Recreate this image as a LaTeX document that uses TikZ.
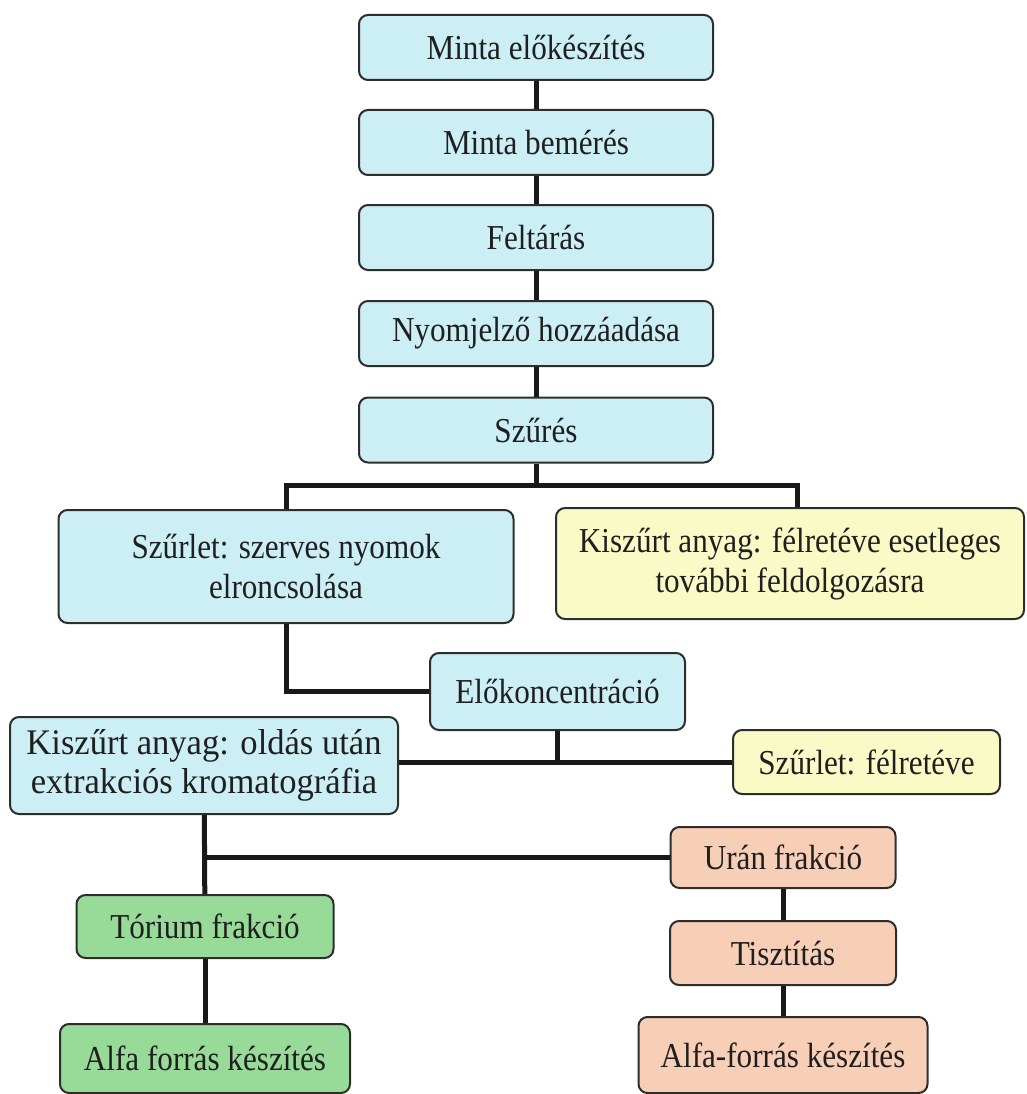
\documentclass[tikz,border=0pt]{standalone}
\usepackage{fontspec}
\setmainfont{Liberation Serif}[FakeStretch=0.89]
\newfontfamily\widefont{Liberation Serif}[FakeStretch=0.96]
\usepackage{xcolor}
\usepackage{tikz}
\usetikzlibrary{positioning}

\definecolor{boxblue}{RGB}{204,238,245}
\definecolor{boxyellow}{RGB}{250,250,198}
\definecolor{boxgreen}{RGB}{152,218,152}
\definecolor{boxpeach}{RGB}{247,206,182}
\definecolor{boxline}{RGB}{45,45,45}

\begin{document}
\begin{tikzpicture}[
        x=1pt, y=-1pt,
        font=\fontsize{35}{40}\selectfont,
        stage/.style={rectangle, rounded corners=9pt, draw=boxline, line width=2pt, inner sep=0pt, align=center, text=black!88},
        bluebox/.style={stage, fill=boxblue},
        yellowbox/.style={stage, fill=boxyellow},
        greenbox/.style={stage, fill=boxgreen},
        peachbox/.style={stage, fill=boxpeach},
        link/.style={line width=5pt, draw=black!90}
    ]
        \useasboundingbox (0,0) rectangle (1026,1094);

        % Main chain
        \node[bluebox, minimum width=354pt, minimum height=65pt] (prep) at (536,47.5) {Minta előkészítés};
        \node[bluebox, minimum width=354pt, minimum height=65pt] (weigh) at (536,142.5) {Minta bemérés};
        \node[bluebox, minimum width=354pt, minimum height=65pt] (digest) at (536,237.5) {Feltárás};
        \node[bluebox, minimum width=354pt, minimum height=65pt] (tracer) at (536,333.5) {Nyomjelző hozzáadása};
        \node[bluebox, minimum width=354pt, minimum height=65pt] (filter) at (536,430) {Szűrés};

        % After filtering
        \node[bluebox, minimum width=455pt, minimum height=113pt] (organic) at (286,566.5) {Szűrlet: szerves nyomok\\elroncsolása};
        \node[yellowbox, minimum width=468pt, minimum height=111pt] (residue) at (790,563.5) {Kiszűrt anyag: félretéve esetleges\\további feldolgozásra};

        % Preconcentration
        \node[bluebox, minimum width=255pt, minimum height=77pt] (precon) at (557.5,691.5) {Előkoncentráció};
        \node[bluebox, minimum width=388pt, minimum height=97pt, font=\widefont\fontsize{36}{39}\selectfont] (extract) at (204,765.5) {Kiszűrt anyag: oldás után\\extrakciós kromatográfia};
        \node[yellowbox, minimum width=267pt, minimum height=64pt] (filtrate) at (866.5,762) {Szűrlet: félretéve};

        % Fractions
        \node[greenbox, minimum width=257pt, minimum height=63pt] (thorium) at (205,926.5) {Tórium frakció};
        \node[greenbox, minimum width=290pt, minimum height=69pt] (alphath) at (205,1058.5) {Alfa forrás készítés};
        \node[peachbox, minimum width=225pt, minimum height=61pt] (uranium) at (783,857.5) {Urán frakció};
        \node[peachbox, minimum width=226pt, minimum height=64pt] (purify) at (783,953) {Tisztítás};
        \node[peachbox, minimum width=289pt, minimum height=76pt] (alphau) at (783,1055) {Alfa-forrás készítés};

        % Connections
        \coordinate (fork) at (536,485);
        \draw[link] (prep) -- (weigh);
        \draw[link] (weigh) -- (digest);
        \draw[link] (digest) -- (tracer);
        \draw[link] (tracer) -- (filter);
        \draw[link] (filter) -- (fork);
        \draw[link] (organic.north) |- (fork) -| ([xshift=7pt]residue.north);
        \draw[link] (organic.south) |- (precon.west);
        \draw[link] (extract.east |- filtrate.west) -- (filtrate.west);
        \draw[link] (precon.south) -- (precon.south |- filtrate.west);
        \draw[link] (extract) -- (thorium);
        \draw[link] (extract.south |- uranium.west) -- (uranium.west);
        \draw[link] (thorium) -- (alphath);
        \draw[link] (uranium) -- (purify);
        \draw[link] (purify) -- (alphau);
    \end{tikzpicture}
\end{document}
